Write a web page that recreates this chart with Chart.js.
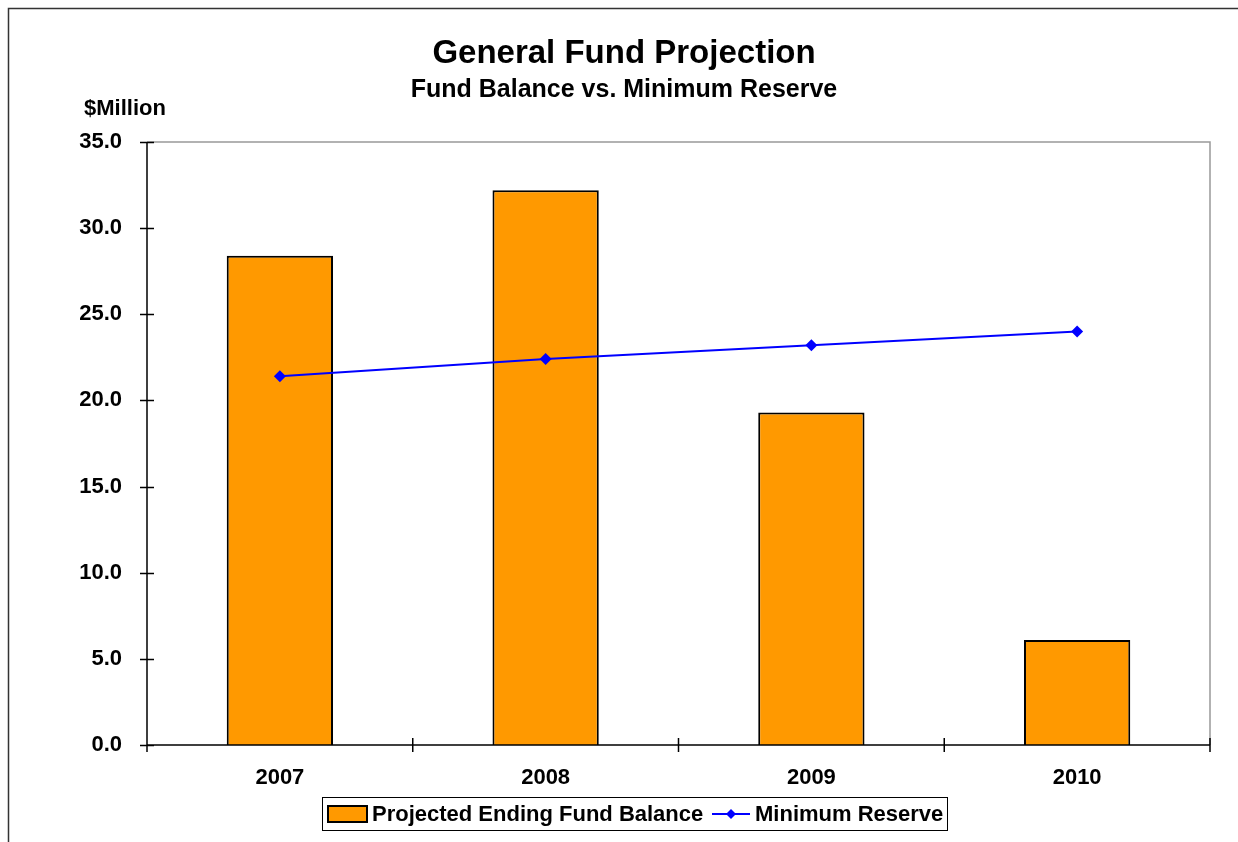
<!DOCTYPE html>
<html>
<head>
<meta charset="utf-8">
<title>General Fund Projection</title>
<script src="https://cdn.jsdelivr.net/npm/chart.js@4"></script>
<style>
  body { margin: 0; background: #fff; }
  #wrap { width: 1238px; height: 842px; position: relative; }
</style>
</head>
<body>
<div id="wrap"><canvas id="myChart"></canvas></div>
<script>
const years = ['2007', '2008', '2009', '2010'];
const fundBalance = [28.4, 32.2, 19.3, 6.1];
const minReserve = [21.4, 22.4, 23.2, 24.0];
const yTicks = [0, 5, 10, 15, 20, 25, 30, 35];

const FONT = '"Liberation Sans", Arial, sans-serif';

// frame, axes, ticks, titles and legend drawn by hand (excel look)
const excelBits = {
  id: 'excelBits',
  beforeDatasetsDraw(chart) {
    const c = chart.ctx, a = chart.chartArea;
    c.save();
    // outer chart border
    c.strokeStyle = '#333';
    c.lineWidth = 1.5;
    c.strokeRect(8.5, 8.5, 1400, 1000);
    // plot area border top/right grey
    c.strokeStyle = '#999';
    c.lineWidth = 1.5;
    c.beginPath();
    c.moveTo(a.left, a.top); c.lineTo(a.right, a.top); c.lineTo(a.right, a.bottom);
    c.stroke();
    c.restore();
  },
  afterDatasetsDraw(chart) {
    const c = chart.ctx, a = chart.chartArea;
    const y = chart.scales.y;
    c.save();
    c.strokeStyle = '#000';
    c.lineWidth = 1.5;
    c.beginPath();
    c.moveTo(a.left, a.top); c.lineTo(a.left, a.bottom); c.lineTo(a.right, a.bottom);
    // y ticks cross the axis
    yTicks.forEach(v => {
      const py = Math.round(y.getPixelForValue(v)) + 0.5;
      c.moveTo(a.left - 7, py); c.lineTo(a.left + 7, py);
    });
    // x ticks between categories
    for (let i = 0; i <= years.length; i++) {
      const px = a.left + (a.right - a.left) * i / years.length;
      c.moveTo(px, a.bottom - 7); c.lineTo(px, a.bottom + 7);
    }
    c.stroke();
    c.restore();
  },
  afterDraw(chart) {
    const c = chart.ctx;
    c.save();
    c.fillStyle = '#000';
    c.textAlign = 'center';
    c.textBaseline = 'alphabetic';
    c.font = 'bold 33px ' + FONT;
    c.fillText('General Fund Projection', 624, 63);
    c.font = 'bold 25px ' + FONT;
    c.fillText('Fund Balance vs. Minimum Reserve', 624, 97);
    c.textAlign = 'left';
    c.font = 'bold 22px ' + FONT;
    c.fillText('$Million', 84, 115);

    // legend
    const bars = chart.data.datasets.find(d => d.type !== 'line');
    const line = chart.data.datasets.find(d => d.type === 'line');
    c.fillStyle = '#fff';
    c.strokeStyle = '#000';
    c.lineWidth = 1;
    c.fillRect(322.5, 797.5, 625, 33);
    c.strokeRect(322.5, 797.5, 625, 33);
    c.fillStyle = bars.backgroundColor;
    c.fillRect(328, 806, 39, 16);
    c.lineWidth = 2;
    c.strokeRect(328, 806, 39, 16);
    c.fillStyle = '#000';
    c.font = 'bold 22px ' + FONT;
    c.textBaseline = 'middle';
    c.fillText(bars.label, 372, 815);
    c.strokeStyle = line.borderColor;
    c.lineWidth = 2;
    c.beginPath(); c.moveTo(712, 814); c.lineTo(750, 814); c.stroke();
    c.fillStyle = line.borderColor;
    c.beginPath();
    c.moveTo(731, 809); c.lineTo(736, 814); c.lineTo(731, 819); c.lineTo(726, 814); c.closePath();
    c.fill();
    c.fillStyle = '#000';
    c.fillText(line.label, 755, 815);
    c.restore();
  }
};

const ctx = document.getElementById('myChart').getContext('2d');
const myChart = new Chart(ctx, {
  type: 'bar',
  data: {
    labels: years,
    datasets: [{
      type: 'line',
      label: 'Minimum Reserve',
      data: minReserve,
      borderColor: '#0000FF',
      backgroundColor: '#0000FF',
      borderWidth: 2,
      pointStyle: 'rectRot',
      pointRadius: 6,
      pointBackgroundColor: '#0000FF',
      pointBorderWidth: 0,
      tension: 0,
      order: 0
    }, {
      type: 'bar',
      label: 'Projected Ending Fund Balance',
      data: fundBalance,
      backgroundColor: '#FF9900',
      borderColor: '#000',
      borderWidth: 2,
      barPercentage: 0.4,
      categoryPercentage: 1.0,
      order: 1
    }]
  },
  options: {
    responsive: true,
    maintainAspectRatio: false,
    animation: false,
    layout: { padding: { left: 0, top: 142, right: 28, bottom: 0 } },
    plugins: {
      legend: { display: false },
      title: { display: false },
      tooltip: { enabled: false }
    },
    scales: {
      x: {
        grid: { display: false, drawTicks: false },
        border: { display: false },
        ticks: { color: '#000', font: { family: FONT, size: 22, weight: 'bold' }, padding: 20 },
        afterFit(s) { s.height = 97; }
      },
      y: {
        min: 0,
        max: 35,
        grid: { display: false, drawTicks: false },
        border: { display: false },
        ticks: {
          stepSize: 5,
          color: '#000',
          padding: 25,
          font: { family: FONT, size: 22, weight: 'bold' },
          callback: v => v.toFixed(1)
        },
        afterFit(s) { s.width = 147; }
      }
    }
  },
  plugins: [excelBits]
});
</script>
</body>
</html>
